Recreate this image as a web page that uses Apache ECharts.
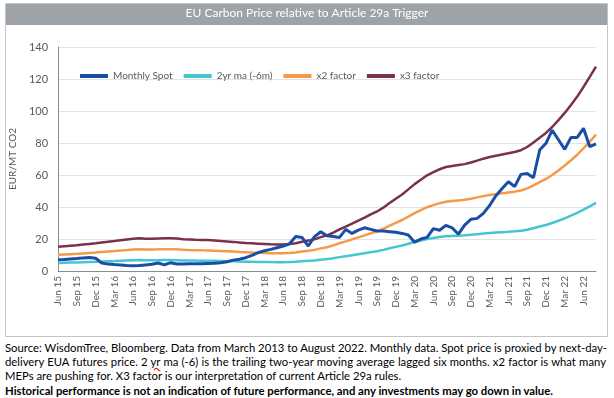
<!DOCTYPE html>
<html>
<head>
<meta charset="utf-8">
<script src="https://cdn.jsdelivr.net/npm/echarts@6/dist/echarts.min.js"></script>
<style>
  html, body { margin: 0; padding: 0; background: #fff; }
  #wrap { position: relative; width: 614px; height: 398px; overflow: hidden; }
  #chart { position: absolute; left: 0; top: 0; width: 614px; height: 340px; }
  #note { position: absolute; left: 5px; top: 341px; width: 601px;
          font-family: Lato, "Liberation Sans", sans-serif; font-size: 11.3px;
          line-height: 14.2px; color: #000; }
  #note .j { text-align: justify; text-align-last: justify; white-space: nowrap; }
  #note .b { font-weight: bold; }
  #note .sq { text-decoration: underline wavy #d00; }
</style>
</head>
<body>
<div id="wrap">
  <div id="chart"></div>
  <div id="note">
    <div class="j">Source: WisdomTree, Bloomberg. Data from March 2013 to August 2022. Monthly data. Spot price is proxied by next-day-</div>
    <div class="j">delivery EUA futures price. 2 <span class="sq">yr</span> ma (-6) is the trailing two-year moving average lagged six months. x2 factor is what many</div>
    <div>MEPs are pushing for. X3 factor is our interpretation of current Article 29a rules.</div>
    <div class="b">Historical performance is not an indication of future performance, and any investments may go down in value.</div>
  </div>
</div>
<script>
// monthly, Jun 15 .. Aug 22
const months = [
  'Jun 15', 'Jul 15', 'Aug 15', 'Sep 15', 'Oct 15', 'Nov 15', 'Dec 15',
  'Jan 16', 'Feb 16', 'Mar 16', 'Apr 16', 'May 16', 'Jun 16', 'Jul 16', 'Aug 16', 'Sep 16', 'Oct 16', 'Nov 16', 'Dec 16',
  'Jan 17', 'Feb 17', 'Mar 17', 'Apr 17', 'May 17', 'Jun 17', 'Jul 17', 'Aug 17', 'Sep 17', 'Oct 17', 'Nov 17', 'Dec 17',
  'Jan 18', 'Feb 18', 'Mar 18', 'Apr 18', 'May 18', 'Jun 18', 'Jul 18', 'Aug 18', 'Sep 18', 'Oct 18', 'Nov 18', 'Dec 18',
  'Jan 19', 'Feb 19', 'Mar 19', 'Apr 19', 'May 19', 'Jun 19', 'Jul 19', 'Aug 19', 'Sep 19', 'Oct 19', 'Nov 19', 'Dec 19',
  'Jan 20', 'Feb 20', 'Mar 20', 'Apr 20', 'May 20', 'Jun 20', 'Jul 20', 'Aug 20', 'Sep 20', 'Oct 20', 'Nov 20', 'Dec 20',
  'Jan 21', 'Feb 21', 'Mar 21', 'Apr 21', 'May 21', 'Jun 21', 'Jul 21', 'Aug 21', 'Sep 21', 'Oct 21', 'Nov 21', 'Dec 21',
  'Jan 22', 'Feb 22', 'Mar 22', 'Apr 22', 'May 22', 'Jun 22', 'Jul 22', 'Aug 22'
]

const spot = [
  7.0, 7.2, 7.5, 7.8, 8.2, 8.5, 8.0,
  5.0, 4.3, 4.0, 3.8, 3.4, 3.3, 3.4, 3.8, 4.2, 5.0, 3.8, 5.2,
  4.4, 4.4, 4.5, 4.6, 4.6, 4.7, 4.8, 5.2, 5.8, 6.8, 7.3, 8.3,
  9.8, 11.5, 12.7, 13.5, 14.5, 15.6, 17.0, 21.5, 21.0, 15.6, 21.5, 24.5,
  22.0, 21.5, 21.0, 26.0, 23.5, 25.5, 27.0, 26.0, 25.0, 25.0, 24.6, 24.2,
  23.5, 22.5, 18.0, 20.0, 21.0, 26.5, 25.5, 28.5, 27.0, 23.0, 28.7, 32.3,
  32.9, 36.0, 41.0, 47.0, 51.5, 55.8, 52.7, 60.4, 61.0, 58.3, 75.6, 79.8,
  88.0, 82.0, 76.0, 83.5, 83.5, 89.2, 77.7, 79.4
]

const ma2yr = [
  5.07, 5.17, 5.27, 5.37, 5.50, 5.63, 5.77,
  5.93, 6.10, 6.23, 6.40, 6.57, 6.73, 6.83, 6.73, 6.70, 6.77, 6.83, 6.83,
  6.77, 6.63, 6.57, 6.50, 6.47, 6.43, 6.37, 6.27, 6.17, 6.07, 5.93, 5.83,
  5.77, 5.70, 5.63, 5.57, 5.53, 5.53, 5.60, 5.80, 6.10, 6.33, 6.60, 7.07,
  7.43, 8.00, 8.67, 9.27, 9.87, 10.50, 11.13, 11.80, 12.40, 13.20, 14.17, 15.07,
  15.93, 17.00, 18.10, 19.00, 19.93, 20.60, 21.20, 21.67, 21.87, 22.07, 22.27, 22.60,
  23.00, 23.40, 23.73, 24.00, 24.27, 24.53, 24.80, 25.17, 25.83, 26.77, 27.77, 28.77,
  30.00, 31.43, 32.93, 34.60, 36.33, 38.33, 40.43, 42.60
]

const x2factor = [
  10.13, 10.33, 10.53, 10.73, 11.00, 11.27, 11.53,
  11.87, 12.20, 12.47, 12.80, 13.13, 13.47, 13.67, 13.47, 13.40, 13.53, 13.67, 13.67,
  13.53, 13.27, 13.13, 13.00, 12.93, 12.87, 12.73, 12.53, 12.33, 12.13, 11.87, 11.67,
  11.53, 11.40, 11.27, 11.13, 11.07, 11.07, 11.20, 11.60, 12.20, 12.67, 13.20, 14.13,
  14.87, 16.00, 17.33, 18.53, 19.73, 21.00, 22.27, 23.60, 24.80, 26.40, 28.33, 30.13,
  31.87, 34.00, 36.20, 38.00, 39.87, 41.20, 42.40, 43.33, 43.73, 44.13, 44.53, 45.20,
  46.00, 46.80, 47.47, 48.00, 48.53, 49.07, 49.60, 50.33, 51.67, 53.53, 55.53, 57.53,
  60.00, 62.87, 65.87, 69.20, 72.67, 76.67, 80.87, 85.20
]

const x3factor = [
  15.2, 15.5, 15.8, 16.1, 16.5, 16.9, 17.3,
  17.8, 18.3, 18.7, 19.2, 19.7, 20.2, 20.5, 20.2, 20.1, 20.3, 20.5, 20.5,
  20.3, 19.9, 19.7, 19.5, 19.4, 19.3, 19.1, 18.8, 18.5, 18.2, 17.8, 17.5,
  17.3, 17.1, 16.9, 16.7, 16.6, 16.6, 16.8, 17.4, 18.3, 19.0, 19.8, 21.2,
  22.3, 24.0, 26.0, 27.8, 29.6, 31.5, 33.4, 35.4, 37.2, 39.6, 42.5, 45.2,
  47.8, 51.0, 54.3, 57.0, 59.8, 61.8, 63.6, 65.0, 65.6, 66.2, 66.8, 67.8,
  69.0, 70.2, 71.2, 72.0, 72.8, 73.6, 74.4, 75.5, 77.5, 80.3, 83.3, 86.3,
  90.0, 94.3, 98.8, 103.8, 109.0, 115.0, 121.3, 127.8
]

const FONT = 'Lato'
const TXT = '#595959'

const chart = echarts.init(document.getElementById('chart'), null, { renderer: 'canvas' })

function lineSeries(name, data, color, width, z) {
  return {
    name: name,
    type: 'line',
    data: data,
    symbol: 'none',
    smooth: false,
    z: z,
    lineStyle: { color: color, width: width },
    itemStyle: { color: color }
  }
}

let option = {
  animation: false,
  backgroundColor: '#fff',
  title: {
    text: 'EU Carbon Price relative to Article 29a Trigger',
    left: 'center',
    top: 7,
    padding: 0,
    textStyle: { color: '#ffffff', fontSize: 12, fontWeight: 'normal', fontFamily: FONT }
  },
  graphic: [
    {
      type: 'rect',
      z: -10,
      shape: { x: 5.5, y: 3.5, width: 602, height: 333 },
      style: { fill: '#fff', stroke: '#c4c4c4', lineWidth: 1 }
    },
    {
      type: 'rect',
      z: -9,
      shape: { x: 6, y: 4, width: 601, height: 21 },
      style: { fill: '#9ea3a8' }
    }
  ],
  legend: {
    left: 75,
    top: 66,
    itemWidth: 28,
    itemHeight: 4,
    itemGap: 11,
    icon: 'rect',
    textStyle: { color: TXT, fontSize: 10, fontFamily: FONT },
    data: ['Monthly Spot', '2yr ma (-6m)', 'x2 factor', 'x3 factor']
  },
  grid: {
    left: 50,
    right: 18,
    top: 47,
    bottom: 69
  },
  xAxis: {
    type: 'category',
    data: months,
    boundaryGap: false,
    axisLine: { show: true, lineStyle: { color: '#8c8c8c', width: 1 } },
    axisTick: { show: false },
    splitLine: { show: false },
    axisLabel: {
      interval: 2,
      rotate: 90,
      margin: 5,
      color: TXT,
      fontSize: 10,
      fontFamily: FONT
    }
  },
  yAxis: {
    type: 'value',
    min: 0,
    max: 140,
    interval: 20,
    name: 'EUR/MT CO2',
    nameLocation: 'middle',
    nameRotate: 90,
    nameGap: 33,
    nameTextStyle: { color: TXT, fontSize: 10, fontFamily: FONT },
    axisLine: { show: true, lineStyle: { color: '#8c8c8c', width: 1 } },
    axisTick: { show: false },
    axisLabel: { color: TXT, fontSize: 11, fontFamily: FONT, margin: 10 },
    splitLine: { show: true, lineStyle: { color: '#e3e3e3', width: 1 } }
  },
  series: [
    lineSeries('Monthly Spot', spot, '#1a4ea6', 3, 5),
    lineSeries('2yr ma (-6m)', ma2yr, '#45c6cf', 2.5, 4),
    lineSeries('x2 factor', x2factor, '#f59a48', 2.5, 3),
    lineSeries('x3 factor', x3factor, '#7a3151', 2.5, 2)
  ]
}

chart.setOption(option)
</script>
</body>
</html>
